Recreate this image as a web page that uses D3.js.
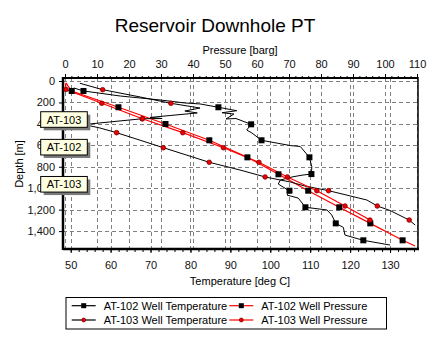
<!DOCTYPE html>
<html>
<head>
<meta charset="utf-8">
<script src="https://cdn.jsdelivr.net/npm/d3@7"></script>
<style>
  body { margin: 0; background: #fff; }
  svg { display: block; font-family: "Liberation Sans", Arial, sans-serif; }
</style>
</head>
<body>
<svg id="chart" width="430" height="345"></svg>
<script>
// AT-102 temperature survey (depth m, deg C); marks = indices that carry a marker
const at102TempDepth = [65, 93, 140, 177, 205, 214, 245, 277, 296, 308, 354, 350, 404, 457, 485, 553, 602, 611, 712, 799, 868, 877, 893, 924, 961, 989, 1023, 1064, 1092, 1178, 1203, 1250, 1328, 1365, 1437, 1486, 1530];
const at102Temp      = [50.8, 53.2, 62.4, 72.4, 78.6, 82.4, 87.0, 91.6, 87.9, 90.9, 88.9, 91.4, 95.2, 94.1, 95.4, 97.8, 105.0, 107.5, 109.8, 110.4, 110.3, 108.2, 105.7, 102.5, 102.0, 103.2, 104.8, 104.2, 107.0, 108.8, 114.2, 115.4, 116.4, 118.3, 118.7, 123.3, 130.0];
const at102TempMarks = [1, 6, 12, 15, 18, 20, 26, 29, 32, 35];

// AT-102 pressure survey (depth m, barg)
const at102PressDepth = [18, 46, 93, 245, 401, 553, 712, 870, 1023, 1178, 1328, 1486, 1539];
const at102Press      = [0.3, 0.9, 2.1, 16.7, 31.4, 45.1, 57.0, 66.7, 76.0, 85.7, 95.4, 105.5, 109.4];
const at102PressMarks = [2, 3, 4, 5, 6, 7, 8, 9, 10, 11];

// AT-103 temperature survey
const at103TempDepth = [21, 81, 149, 208, 252, 280, 298, 322, 340, 350, 352, 382, 406, 438, 482, 622, 758, 830, 895, 942, 980, 1023, 1110, 1166, 1208, 1297, 1344];
const at103Temp      = [52.3, 58.0, 67.4, 75.1, 82.4, 78.6, 81.7, 74.9, 69.9, 72.9, 67.9, 59.8, 53.3, 57.3, 61.5, 73.2, 84.7, 92.4, 98.7, 105.0, 108.7, 114.6, 124.2, 126.8, 130.0, 134.8, 136.3];
const at103TempMarks = [1, 3, 10, 14, 15, 16, 18, 21, 23, 25];

// AT-103 pressure survey
const at103PressDepth = [21, 79, 208, 352, 482, 622, 758, 895, 1023, 1166, 1297, 1330];
const at103Press      = [0.16, 0.3, 11.5, 24.2, 36.8, 49.5, 60.6, 69.5, 78.7, 87.5, 95.3, 96.3];
const at103PressMarks = [1, 2, 3, 4, 5, 6, 7, 8, 9, 10];

// feed zone callouts
const zoneLabels = ["AT-103", "AT-102", "AT-103"];
const zoneDepths = [432, 690, 1036];

const tempTicks  = [50, 60, 70, 80, 90, 100, 110, 120, 130];
const pressTicks = [0, 10, 20, 30, 40, 50, 60, 70, 80, 90, 100, 110];
const depthTicks = [0, 200, 400, 600, 800, 1000, 1200, 1400];

const series = [
  { name: "AT-102 Well Temperature", depth: at102TempDepth, val: at102Temp, marks: at102TempMarks, axis: "T", line: "#000", marker: "square" },
  { name: "AT-102 Well Pressure", depth: at102PressDepth, val: at102Press, marks: at102PressMarks, axis: "P", line: "#ff0000", marker: "square" },
  { name: "AT-103 Well Temperature", depth: at103TempDepth, val: at103Temp, marks: at103TempMarks, axis: "T", line: "#000", marker: "dot" },
  { name: "AT-103 Well Pressure", depth: at103PressDepth, val: at103Press, marks: at103PressMarks, axis: "P", line: "#ff0000", marker: "dot" }
];

const svg = d3.select("#chart");
const pLeft = 63, pRight = 418, pTop = 78, pBottom = 249;

const y  = d3.scaleLinear().domain([-28, 1567]).range([pTop, pBottom]);
const xT = d3.scaleLinear().domain([48.07, 137.0]).range([pLeft, pRight]);
const xP = d3.scaleLinear().domain([-0.625, 110.31]).range([pLeft, pRight]);

svg.append("rect").attr("width", 430).attr("height", 345).attr("fill", "#fff");

svg.append("text").attr("x", 215).attr("y", 32).attr("text-anchor", "middle")
  .attr("font-size", 19).text("Reservoir Downhole PT");

// grid
const grid = svg.append("g").attr("stroke", "#808080").attr("stroke-dasharray", "4,3")
  .attr("shape-rendering", "crispEdges");
grid.selectAll(".gy").data(depthTicks).enter().append("line")
  .attr("x1", pLeft).attr("x2", pRight)
  .attr("y1", d => Math.round(y(d)) + 0.5).attr("y2", d => Math.round(y(d)) + 0.5);
grid.selectAll(".gt").data(tempTicks).enter().append("line")
  .attr("y1", pTop).attr("y2", pBottom)
  .attr("x1", d => Math.round(xT(d)) + 0.5).attr("x2", d => Math.round(xT(d)) + 0.5);
grid.selectAll(".gp").data(pressTicks).enter().append("line")
  .attr("y1", pTop).attr("y2", pBottom)
  .attr("x1", d => Math.round(xP(d)) + 0.5).attr("x2", d => Math.round(xP(d)) + 0.5);

// axes
function styleAxis(g) {
  g.select(".domain").remove();
  g.selectAll("text").attr("font-size", 11).attr("fill", "#111").attr("font-family", "Liberation Sans, Arial, sans-serif");
  g.selectAll("line").attr("stroke", "#000");
}
svg.append("g").attr("transform", `translate(0,${pTop})`)
  .call(d3.axisTop(xP).tickValues(d3.range(0, 111, 2)).tickSize(2).tickFormat(""))
  .call(g => g.select(".domain").remove());
svg.append("g").attr("transform", `translate(0,${pTop})`)
  .call(d3.axisTop(xP).tickValues(pressTicks).tickSize(4).tickPadding(6))
  .call(styleAxis);

svg.append("g").attr("transform", `translate(0,${pBottom})`)
  .call(d3.axisBottom(xT).tickValues(d3.range(50, 137, 2)).tickSize(3).tickFormat(""))
  .call(g => g.select(".domain").remove());
svg.append("g").attr("transform", `translate(0,${pBottom})`)
  .call(d3.axisBottom(xT).tickValues(tempTicks).tickSize(4).tickPadding(8))
  .call(styleAxis);

svg.append("g").attr("transform", `translate(${pLeft},0)`)
  .call(d3.axisLeft(y).tickValues(depthTicks).tickSize(4).tickPadding(4).tickFormat(d3.format(",")))
  .call(styleAxis);

// frame
svg.append("line").attr("x1", pLeft).attr("x2", pRight).attr("y1", pTop).attr("y2", pTop)
  .attr("stroke", "#000").attr("stroke-width", 2);
svg.append("line").attr("x1", pLeft).attr("x2", pRight + 1).attr("y1", pBottom).attr("y2", pBottom)
  .attr("stroke", "#000").attr("stroke-width", 2.5);
svg.append("line").attr("x1", pLeft).attr("x2", pLeft).attr("y1", pTop - 1).attr("y2", pBottom + 1)
  .attr("stroke", "#000").attr("stroke-width", 2.5);
svg.append("line").attr("x1", pRight).attr("x2", pRight).attr("y1", pTop - 1).attr("y2", pBottom)
  .attr("stroke", "#000").attr("stroke-width", 1.5);

svg.append("text").attr("x", 240).attr("y", 54).attr("text-anchor", "middle")
  .attr("font-size", 11).text("Pressure [barg]");
svg.append("text").attr("x", 240).attr("y", 285).attr("text-anchor", "middle")
  .attr("font-size", 11).text("Temperature [deg C]");
svg.append("text").attr("transform", "translate(23,164) rotate(-90)").attr("text-anchor", "middle")
  .attr("font-size", 11).text("Depth [m]");

// series
function drawMarker(g, type, cx, cy, size) {
  if (type === "square") {
    g.append("rect").attr("x", cx - size / 2).attr("y", cy - size / 2)
      .attr("width", size).attr("height", size).attr("fill", "#000");
  } else {
    g.append("circle").attr("cx", cx).attr("cy", cy).attr("r", size / 2.6)
      .attr("fill", "#ee0000").attr("stroke", "#800000").attr("stroke-width", 0.8);
  }
}

const plot = svg.append("g");
series.forEach(s => {
  const x = s.axis === "T" ? xT : xP;
  const pts = s.depth.map((d, i) => [x(s.val[i]), y(d)]);
  plot.append("path").attr("d", d3.line()(pts))
    .attr("fill", "none").attr("stroke", s.line).attr("stroke-width", s.line === "#000" ? 1 : 1.2);
});
series.forEach(s => {
  const x = s.axis === "T" ? xT : xP;
  s.marks.forEach(i => drawMarker(plot, s.marker, x(s.val[i]), y(s.depth[i]), 6));
});

// callouts
const bw = 46.6, bh = 15.6, bx = pLeft - 22.3;
zoneDepths.forEach((d, i) => {
  const by = y(d) - bh;
  const g = svg.append("g");
  g.append("path")
    .attr("d", `M${pLeft},${y(d) - 4} L${pLeft + 5},${y(d)} L${pLeft},${y(d) + 2} Z`)
    .attr("fill", "#8b1a1a");
  g.append("rect").attr("x", bx + 3).attr("y", by + 3).attr("width", bw).attr("height", bh)
    .attr("fill", "#7a7a7a");
  g.append("rect").attr("x", bx).attr("y", by).attr("width", bw).attr("height", bh)
    .attr("fill", "#ffffe1").attr("stroke", "#000").attr("stroke-width", 1);
  g.append("text").attr("x", bx + bw / 2).attr("y", by + bh / 2 + 4).attr("text-anchor", "middle")
    .attr("font-size", 11).text(zoneLabels[i]);
});

// legend
const legend = svg.append("g");
legend.append("rect").attr("x", 66).attr("y", 297.5).attr("width", 320.5).attr("height", 31.5)
  .attr("fill", "#fff").attr("stroke", "#000").attr("stroke-width", 1);
series.forEach((s, i) => {
  const col = i % 2, row = Math.floor(i / 2);
  const lx = col === 0 ? 71.7 : 229.3;
  const ly = 305.7 + row * 14.3;
  legend.append("line").attr("x1", lx).attr("x2", lx + 24).attr("y1", ly).attr("y2", ly)
    .attr("stroke", s.line).attr("stroke-width", 1.2);
  drawMarker(legend, s.marker, lx + 12, ly, 5);
  legend.append("text").attr("x", lx + 32).attr("y", ly + 4).attr("font-size", 11).text(s.name);
});
</script>
</body>
</html>
